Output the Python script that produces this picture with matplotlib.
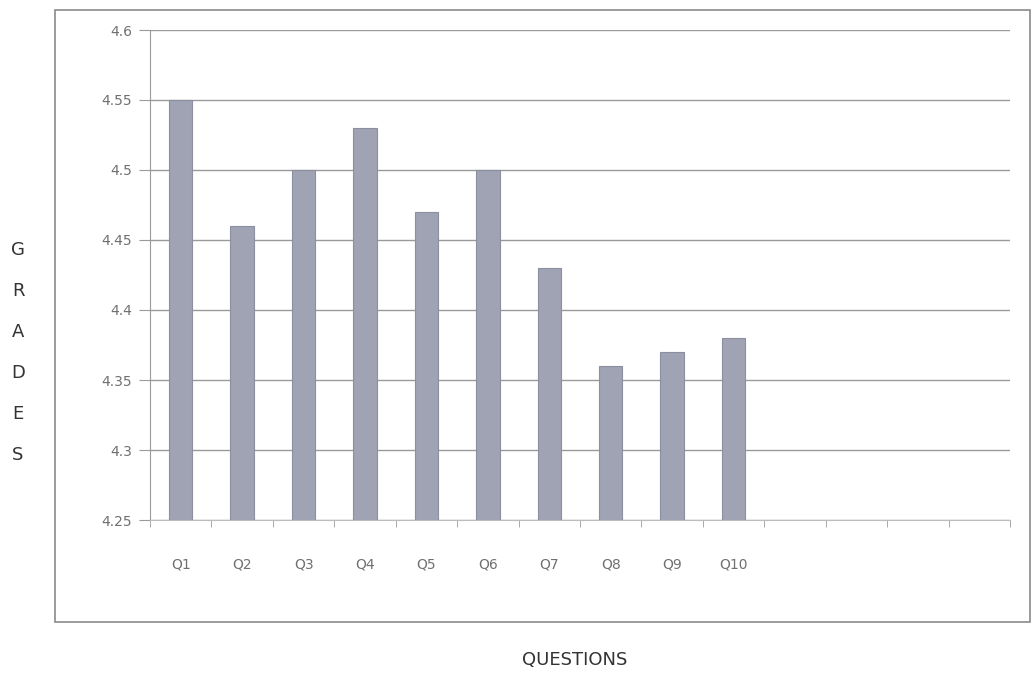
import matplotlib
matplotlib.use("Agg")
import matplotlib.pyplot as plt
from matplotlib.patches import Rectangle
import numpy as np

categories = ["Q1", "Q2", "Q3", "Q4", "Q5", "Q6", "Q7", "Q8", "Q9", "Q10"]
values = [4.55, 4.46, 4.50, 4.53, 4.47, 4.50, 4.43, 4.36, 4.37, 4.38]
n_slots = 14
yticks = [4.25, 4.3, 4.35, 4.4, 4.45, 4.5, 4.55, 4.6]
ytick_labels = ["4.25", "4.3", "4.35", "4.4", "4.45", "4.5", "4.55", "4.6"]

plt.rcParams["font.family"] = ["DejaVu Sans"]

fig = plt.figure(figsize=(10.36, 6.76), dpi=100)
fig.patch.set_facecolor("white")

# outer chart frame
fig.patches.append(Rectangle((55/1036, 1-622/676), (1030-55)/1036, (622-10)/676,
                             transform=fig.transFigure, fill=False,
                             edgecolor="#8a8a8a", linewidth=1.2))

ax = fig.add_axes([150/1036, 1-520/676, (1010-150)/1036, (520-30)/676])
x = np.arange(len(categories))
ax.bar(x, values, width=0.38, color="#a0a3b4", edgecolor="#8c8fa0", linewidth=0.8,
       bottom=0, zorder=3)
ax.set_xlim(-0.5, n_slots - 0.5)
ax.set_ylim(4.25, 4.6)
ax.set_yticks(yticks)
ax.set_yticklabels(ytick_labels)
ax.yaxis.grid(True, color="#9a9a9a", linewidth=1.0, zorder=0)
ax.set_axisbelow(True)

ax.set_xticks(x)
ax.set_xticklabels(categories)
ax.set_xticks(np.arange(-0.5, n_slots, 1.0), minor=True)
ax.tick_params(axis="x", which="major", length=0, pad=27, labelsize=10, labelcolor="#707070")
ax.tick_params(axis="x", which="minor", length=5, color="#9a9a9a", direction="out")
ax.tick_params(axis="y", which="major", length=8, color="#9a9a9a", pad=5,
               labelsize=10, labelcolor="#707070")

for s in ["top", "right"]:
    ax.spines[s].set_visible(False)
ax.spines["left"].set_color("#9a9a9a")
ax.spines["bottom"].set_color("#bdbdbd")

# stacked y label
ylabel = "GRADES"
for i, ch in enumerate(ylabel):
    fig.text(18/1036, 1-(250 + i*41)/676, ch, ha="center", va="center",
             fontsize=13, color="#333333")

fig.text(575/1036, 1-660/676, "QUESTIONS", ha="center", va="center",
         fontsize=13, color="#333333")

fig.savefig("out.png", dpi=100, facecolor="white")
